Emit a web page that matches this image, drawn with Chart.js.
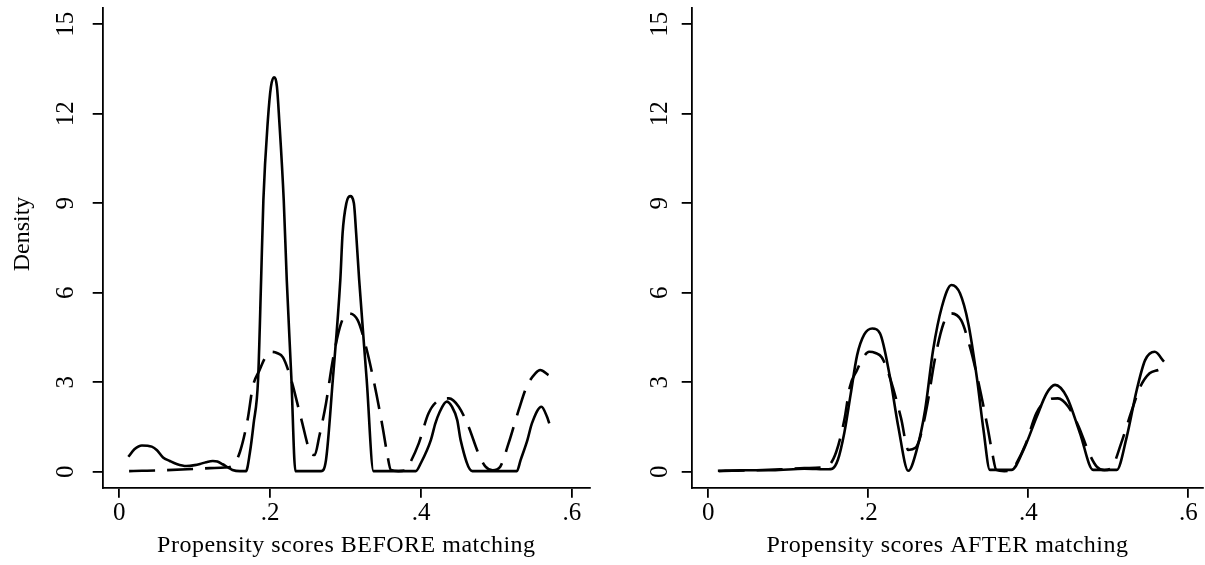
<!DOCTYPE html>
<html>
<head>
<meta charset="utf-8">
<script src="https://cdn.jsdelivr.net/npm/chart.js@4.4.1/dist/chart.umd.min.js"></script>
<style>
  html, body { margin: 0; padding: 0; background: #fff; }
  #wrap { position: relative; width: 1205px; height: 565px; }
  #before { position: absolute; left: 0; top: 0; }
  #after { position: absolute; left: 600px; top: 0; }
</style>
</head>
<body>
<div id="wrap">
  <canvas id="before" width="600" height="565"></canvas>
  <canvas id="after" width="605" height="565"></canvas>
</div>
<script>
// tick values
const xTicks = [0, 0.2, 0.4, 0.6];
const yTicks = [0, 3, 6, 9, 12, 15];

// BEFORE matching: treated (solid)
const xBeforeTreated = [0.012, 0.02, 0.03, 0.043, 0.05, 0.058, 0.067, 0.076, 0.089, 0.1, 0.107, 0.115, 0.124, 0.13, 0.137, 0.145, 0.15, 0.16, 0.168,
  0.173, 0.178, 0.184, 0.188, 0.191, 0.197, 0.201, 0.205, 0.209, 0.212, 0.218, 0.222, 0.228, 0.2335,
  0.2675, 0.274, 0.283, 0.293, 0.296, 0.301, 0.306, 0.311, 0.314, 0.318, 0.328, 0.337,
  0.393, 0.40, 0.413, 0.419, 0.424, 0.434, 0.441, 0.448, 0.4525, 0.468,
  0.527, 0.532, 0.541, 0.547, 0.5597, 0.567, 0.570];
const yBeforeTreated = [0.5, 0.75, 0.88, 0.84, 0.72, 0.48, 0.36, 0.26, 0.19, 0.22, 0.26, 0.32, 0.36, 0.34, 0.25, 0.13, 0.06, 0.02, 0.02,
  0.62, 1.6, 3.1, 6.43, 9.1, 11.8, 12.9, 13.22, 12.9, 11.8, 9.1, 6.43, 3.2, 0.02,
  0.02, 0.39, 3.07, 6.43, 7.99, 9.0, 9.24, 9.0, 7.99, 6.43, 3.07, 0.02,
  0.02, 0.3, 1.06, 1.62, 1.96, 2.35, 2.18, 1.73, 1.06, 0.02,
  0.02, 0.39, 1.06, 1.62, 2.18, 1.84, 1.62];

// BEFORE matching: controls (dashed)
const xBeforeControl = [0.013, 0.03, 0.06, 0.09, 0.12, 0.14, 0.15, 0.16, 0.17, 0.177, 0.186, 0.193, 0.201, 0.209, 0.217, 0.228, 0.241, 0.254, 0.259,
  0.265, 0.274, 0.283, 0.294, 0.3026, 0.316, 0.327, 0.338, 0.349, 0.355, 0.36, 0.37, 0.38, 0.384,
  0.397, 0.41, 0.424, 0.437, 0.45, 0.463, 0.476, 0.4855, 0.495, 0.505, 0.516, 0.5295, 0.54, 0.5516, 0.558, 0.569];
const yBeforeControl = [0.02, 0.03, 0.05, 0.08, 0.12, 0.14, 0.2, 0.67, 1.73, 2.85, 3.41, 3.8, 4.02, 3.98, 3.83, 3.07, 1.79, 0.62, 0.56,
  1.17, 2.29, 3.74, 4.97, 5.31, 5.08, 4.19, 2.96, 1.51, 0.62, 0.06, 0.02, 0.05, 0.22,
  0.95, 1.96, 2.4, 2.46, 2.18, 1.51, 0.62, 0.17, 0.05, 0.17, 0.95, 2.07, 2.85, 3.3, 3.41, 3.24];

// AFTER matching: treated (solid)
const xAfterTreated = [0.012, 0.04, 0.08, 0.12, 0.15, 0.155, 0.162, 0.17, 0.178, 0.186, 0.195, 0.205, 0.2146, 0.227, 0.2375, 0.25,
  0.2605, 0.271, 0.281, 0.292, 0.304, 0.3146, 0.325, 0.3355, 0.344, 0.352, 0.379,
  0.394, 0.4105, 0.423, 0.4334, 0.448, 0.4646, 0.481, 0.5105, 0.523, 0.5355, 0.546, 0.558, 0.5696];
const yAfterTreated = [0.03, 0.05, 0.05, 0.1, 0.08, 0.1, 0.4, 1.3, 2.6, 3.9, 4.6, 4.8, 4.64, 3.19, 1.51, 0.03,
  0.73, 2.07, 4.08, 5.53, 6.26, 5.98, 4.97, 3.19, 1.4, 0.06, 0.06,
  0.73, 1.84, 2.63, 2.91, 2.51, 1.29, 0.06, 0.06, 1.17, 2.74, 3.74, 4.02, 3.69];

// AFTER matching: matched controls (dashed)
const xAfterControl = [0.013, 0.03, 0.06, 0.09, 0.12, 0.14, 0.15, 0.16, 0.17, 0.177, 0.186, 0.193, 0.201, 0.209, 0.217, 0.228, 0.241, 0.25,
  0.259, 0.265, 0.274, 0.283, 0.294, 0.3026, 0.316, 0.327, 0.338, 0.349, 0.355, 0.36, 0.37, 0.38, 0.384,
  0.397, 0.41, 0.424, 0.437, 0.45, 0.463, 0.476, 0.4855, 0.495, 0.505, 0.516, 0.5295, 0.54, 0.5516, 0.5625];
const yAfterControl = [0.02, 0.03, 0.05, 0.08, 0.12, 0.14, 0.2, 0.67, 1.73, 2.85, 3.41, 3.8, 4.02, 3.98, 3.83, 3.07, 1.79, 0.73,
  0.8, 1.17, 2.29, 3.74, 4.97, 5.31, 5.08, 4.19, 2.96, 1.51, 0.62, 0.06, 0.02, 0.05, 0.22,
  0.95, 1.96, 2.4, 2.46, 2.18, 1.51, 0.62, 0.17, 0.05, 0.17, 0.95, 2.07, 2.85, 3.3, 3.41];

const FONT = '"Liberation Serif", "Times New Roman", serif';

function points(xs, ys) {
  return xs.map((x, i) => ({ x: x, y: ys[i] }));
}

function tickText(v) {
  return v === 0 ? '0' : String(v).replace(/^0/, '');
}

// y tick labels (rotated) and axis titles
function textPlugin(opt) {
  return {
    id: 'textPlugin',
    afterDraw(chart) {
      const ctx = chart.ctx;
      const ys = chart.scales.y;
      const area = chart.chartArea;
      ctx.save();
      ctx.fillStyle = '#000';
      ctx.font = '25px ' + FONT;
      ctx.textAlign = 'center';
      ctx.textBaseline = 'middle';
      yTicks.forEach(v => {
        ctx.save();
        ctx.translate(opt.tickX, ys.getPixelForValue(v));
        ctx.rotate(-Math.PI / 2);
        ctx.fillText(String(v), 0, 0);
        ctx.restore();
      });
      ctx.font = '24px ' + FONT;
      if (opt.yTitle) {
        ctx.save();
        ctx.translate(22.5, 234);
        ctx.rotate(-Math.PI / 2);
        ctx.fillText(opt.yTitle, 0, 0);
        ctx.restore();
      }
      ctx.textBaseline = 'alphabetic';
      ctx.letterSpacing = '0.5px';
      ctx.fillText(opt.xTitle, (area.left + area.right) / 2, 552);
      ctx.restore();
    }
  };
}

function makeChart(id, solid, dashed, opt) {
  return new Chart(document.getElementById(id), {
    type: 'line',
    data: {
      datasets: [
        { data: solid, borderColor: '#000', borderWidth: 2.6, pointRadius: 0, cubicInterpolationMode: 'monotone', fill: false },
        { data: dashed, borderColor: '#000', borderWidth: 2.6, borderDash: [26, 12], pointRadius: 0, cubicInterpolationMode: 'monotone', fill: false }
      ]
    },
    options: {
      responsive: false,
      animation: false,
      layout: { padding: { top: 8, right: opt.padRight, left: 0, bottom: 0 } },
      plugins: { legend: { display: false }, tooltip: { enabled: false } },
      scales: {
        x: {
          type: 'linear',
          min: opt.xMin,
          max: opt.xMax,
          afterBuildTicks: s => { s.ticks = xTicks.map(v => ({ value: v })); },
          afterFit: s => { s.height = 77.3; },
          ticks: { color: '#000', font: { family: FONT, size: 25 }, padding: 1, maxRotation: 0, callback: v => tickText(v) },
          grid: { drawOnChartArea: false, tickLength: 10, color: '#000', lineWidth: 1.8 },
          border: { display: true, color: '#000', width: 1.8 }
        },
        y: {
          type: 'linear',
          min: -0.536,
          max: 15.545,
          afterBuildTicks: s => { s.ticks = yTicks.map(v => ({ value: v })); },
          afterFit: s => { s.width = opt.yWidth; },
          ticks: { display: false },
          grid: { drawOnChartArea: false, tickLength: 10, color: '#000', lineWidth: 1.8 },
          border: { display: true, color: '#000', width: 1.8 }
        }
      }
    },
    plugins: [textPlugin(opt)]
  });
}

makeChart('before', points(xBeforeTreated, yBeforeTreated), points(xBeforeControl, yBeforeControl), {
  xMin: -0.022, xMax: 0.624, yWidth: 102.7, padRight: 10, tickX: 66.7,
  yTitle: 'Density', xTitle: 'Propensity scores BEFORE matching'
});

makeChart('after', points(xAfterTreated, yAfterTreated), points(xAfterControl, yAfterControl), {
  xMin: -0.0207, xMax: 0.6187, yWidth: 91.7, padRight: 1.7, tickX: 60.7,
  yTitle: null, xTitle: 'Propensity scores AFTER matching'
});
</script>
</body>
</html>
